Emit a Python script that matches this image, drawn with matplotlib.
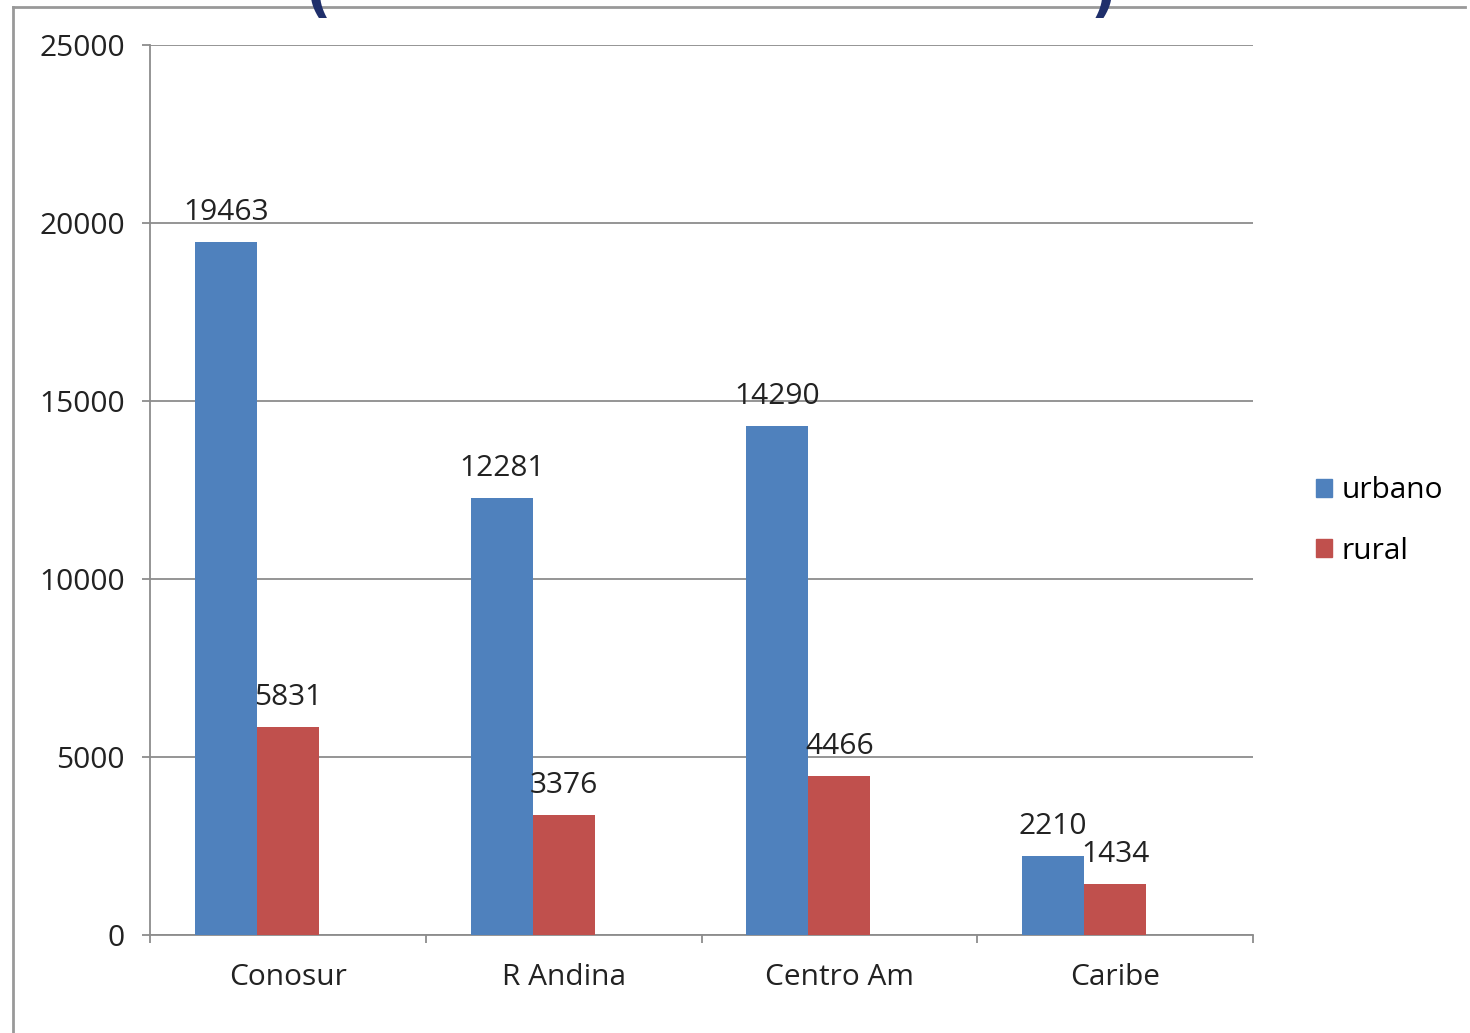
import matplotlib
matplotlib.use("Agg")
import matplotlib.pyplot as plt
from matplotlib.lines import Line2D
from matplotlib.patches import Patch
import numpy as np

categories = ["Conosur", "R Andina", "Centro Am", "Caribe"]
urbano = [19463, 12281, 14290, 2210]
rural = [5831, 3376, 4466, 1434]
yticks = [0, 5000, 10000, 15000, 20000, 25000]

blue = "#4f81bd"
red = "#c0504d"
gray = "#8c8c8c"
font = "Open Sans"
fs = 21.5

fig = plt.figure(figsize=(14.7, 10.33), dpi=100)
ax = fig.add_axes([150/1470, 1-935/1033, (1253-150)/1470, (935-45)/1033])

x = np.arange(len(categories))
w = 0.225
ax.bar(x - w, urbano, width=w, color=blue, zorder=3)
ax.bar(x, rural, width=w, color=red, zorder=3)

for xi, v in zip(x, urbano):
    ax.text(xi - w, v + 420, str(v), ha="center", va="bottom", fontsize=fs, family=font, color="#222222", zorder=4)
for xi, v in zip(x, rural):
    ax.text(xi, v + 420, str(v), ha="center", va="bottom", fontsize=fs, family=font, color="#222222", zorder=4)

ax.set_xlim(-0.5, len(categories) - 0.5)
ax.set_ylim(0, 25000)
ax.set_yticks(yticks)
ax.set_yticklabels([str(t) for t in yticks], fontsize=fs, family=font, color="#222222")
ax.set_xticks(x)
ax.set_xticklabels(categories, fontsize=fs, family=font, color="#222222")
ax.set_xticks(np.arange(len(categories) + 1) - 0.5, minor=True)
ax.tick_params(axis="x", which="major", length=0, pad=20)
ax.tick_params(axis="x", which="minor", length=6, color=gray, width=1.3, direction="out")
ax.tick_params(axis="y", length=6, color=gray, width=1.3, pad=12)
ax.yaxis.grid(True, color=gray, linewidth=1.3, zorder=0)
ax.set_axisbelow(True)
for s in ["top", "right"]:
    ax.spines[s].set_visible(False)
for s in ["left", "bottom"]:
    ax.spines[s].set_color(gray)
    ax.spines[s].set_linewidth(1.3)

handles = [Patch(color=blue, label="urbano"), Patch(color=red, label="rural")]
fig.legend(handles=handles, loc="center left", bbox_to_anchor=(1316/1470, 1-521/1033),
           frameon=False, prop={"family": font, "size": fs}, handlelength=0.55, handleheight=0.55,
           handletextpad=0.3, labelspacing=1.05, borderpad=0, borderaxespad=0)

# outer frame
fig.add_artist(Line2D([13/1470, 1465/1470], [1-7/1033, 1-7/1033], color="#999999", linewidth=2))
fig.add_artist(Line2D([13/1470, 13/1470], [1-7/1033, 0], color="#999999", linewidth=2))

# cut-off title parentheses
fig.text(318/1470, 1-(-4)/1033, "(", fontsize=40, color="#1f2f6b", ha="center", va="center", fontweight="bold")
fig.text(1103/1470, 1-(-4)/1033, ")", fontsize=40, color="#1f2f6b", ha="center", va="center", fontweight="bold")

fig.savefig("out.png", dpi=100)
